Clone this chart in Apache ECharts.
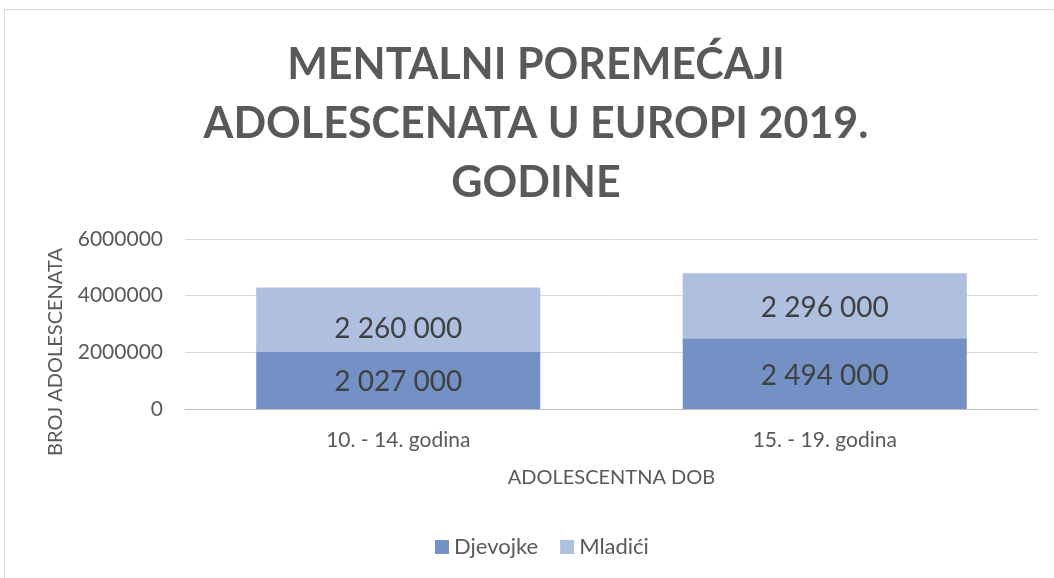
<!DOCTYPE html>
<html><head><meta charset="utf-8">
<script src="https://cdn.jsdelivr.net/npm/echarts@6/dist/echarts.min.js"></script>
<style>html,body{margin:0;padding:0;background:#fff}#c{width:1054px;height:578px}</style>
</head><body><div id="c"></div>
<script>
const categories = ['10. - 14. godina', '15. - 19. godina'];
const djevojke = [2027000, 2494000];
const mladici = [2260000, 2296000];
const yTicks = [0, 2000000, 4000000, 6000000];
const seriesNames = ['Djevojke', 'Mladići'];
const titleText = 'MENTALNI POREMEĆAJI\nADOLESCENATA U EUROPI 2019.\nGODINE';
const yName = 'BROJ ADOLESCENATA';
const xName = 'ADOLESCENTNA DOB';

const FONT = 'Lato, "Open Sans", sans-serif';
function fmt(v){ return String(v).replace(/\B(?=(\d{3})+(?!\d))/g, ' '); }
const labelOffsetsM = [[0, 9], [0, 2]];
const labelOffsetsD = [[0, 2], [0, 2]];

const chart = echarts.init(document.getElementById('c'));
chart.setOption({
  animation: false,
  textStyle: { fontFamily: FONT },
  graphic: [{
    type: 'rect', shape: { x: 4.5, y: 9.5, width: 1060, height: 600 },
    style: { fill: 'none', stroke: '#d9d9d9', lineWidth: 1 }, silent: true, z: -1
  }, {
    type: 'text', x: 56, y: 352, rotation: Math.PI / 2,
    style: { text: yName, fontFamily: FONT, fontSize: 20, fill: '#595959', align: 'center', verticalAlign: 'middle' }
  }],
  title: {
    text: titleText, left: 531, top: 31, textAlign: 'center',
    textStyle: { fontFamily: FONT, fontSize: 43, fontWeight: 'bold', color: '#595959', lineHeight: 59 }
  },
  legend: {
    data: seriesNames, bottom: 15, left: 430, itemWidth: 14, itemHeight: 14, itemGap: 22,
    icon: 'rect', textStyle: { fontFamily: FONT, fontSize: 22, color: '#595959' }
  },
  grid: { left: 185, right: 16, top: 239, bottom: 169 },
  xAxis: {
    type: 'category', data: categories,
    name: xName, nameLocation: 'middle', nameGap: 59,
    nameTextStyle: { fontFamily: FONT, fontSize: 20, color: '#595959' },
    axisTick: { show: false },
    axisLine: { lineStyle: { color: '#bfbfbf', width: 1 } },
    axisLabel: { fontFamily: FONT, fontSize: 21, color: '#595959', margin: 21 }
  },
  yAxis: {
    type: 'value', min: yTicks[0], max: yTicks[yTicks.length-1], interval: 2000000,
    axisLine: { show: false }, axisTick: { show: false },
    splitLine: { lineStyle: { color: '#d9d9d9', width: 1 } },
    axisLabel: { fontFamily: FONT, fontSize: 21, color: '#595959', margin: 22, formatter: v => String(v) }
  },
  series: [
    { name: seriesNames[0], type: 'bar', stack: 's',
      data: djevojke.map((v, i) => ({ value: v, label: { offset: labelOffsetsD[i] } })), barWidth: '66.6%',
      itemStyle: { color: '#7391c4' },
      label: { show: true, position: 'inside', formatter: p => fmt(p.value), fontFamily: FONT, fontSize: 28, color: '#404040' } },
    { name: seriesNames[1], type: 'bar', stack: 's',
      data: mladici.map((v, i) => ({ value: v, label: { offset: labelOffsetsM[i] } })), barWidth: '66.6%',
      itemStyle: { color: '#afbfe0' },
      label: { show: true, position: 'inside', formatter: p => fmt(p.value), fontFamily: FONT, fontSize: 28, color: '#404040' } }
  ]
});
</script></body></html>
